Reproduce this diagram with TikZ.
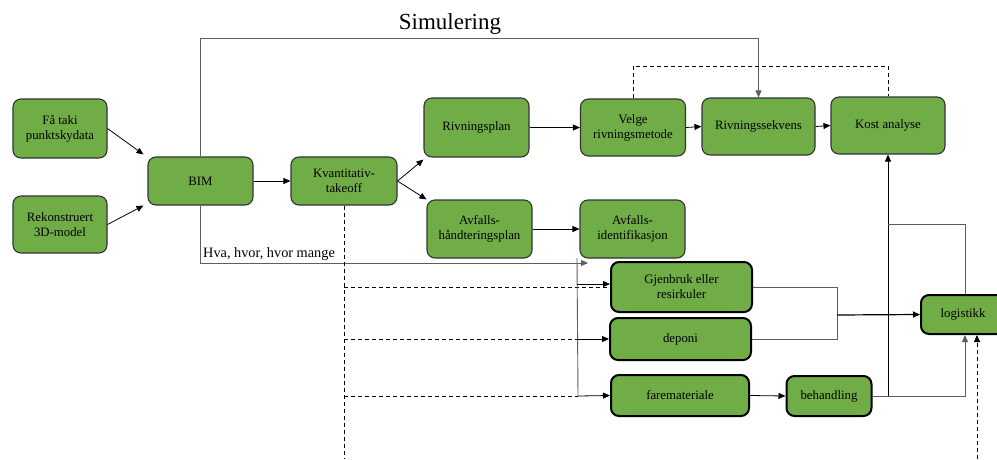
\documentclass[tikz,border=0pt]{standalone}
\usepackage{fontspec}
\setmainfont{Liberation Serif}
\usetikzlibrary{arrows.meta}
\definecolor{boxgreen}{HTML}{70AD47}
\definecolor{lgray}{HTML}{5E5E5E}
\tikzset{
  box/.style={draw=black!80, line width=1.1pt, fill=boxgreen, rounded corners=8pt, align=center,
    font=\fontsize{12.8}{15}\selectfont, inner sep=1pt},
  tbox/.style={box, draw=black, line width=2pt},
  conn/.style={line width=0.8pt, draw=black},
  arr/.style={conn, -{Triangle[length=7pt,width=6pt]}},
  gline/.style={line width=0.9pt, draw=lgray},
  dline/.style={conn, dash pattern=on 4pt off 3pt},
}
\begin{document}
\begin{tikzpicture}[x=1pt,y=-1pt]
\useasboundingbox (0,0) rectangle (997,459);
% nodes
\node[box, minimum width=94pt, minimum height=59pt] (fa) at (60,128.5) {Få taki\\punktskydata};
\node[box, minimum width=94pt, minimum height=57pt] (rek) at (60,224.5) {Rekonstruert\\3D-model};
\node[box, minimum width=105pt, minimum height=48pt] (bim) at (200.5,181) {BIM};
\node[box, minimum width=106pt, minimum height=48pt] (kv) at (344,181) {Kvantitativ-\\takeoff};
\node[box, minimum width=105pt, minimum height=59pt] (riv) at (476.5,127.5) {Rivningsplan};
\node[box, minimum width=105pt, minimum height=57pt] (velge) at (633,127.5) {Velge\\rivningsmetode};
\node[box, minimum width=113pt, minimum height=57pt] (sekv) at (758.5,126.5) {Rivningssekvens};
\node[box, minimum width=114pt, minimum height=57pt] (kost) at (888,125.5) {Kost analyse};
\node[box, minimum width=105pt, minimum height=58pt] (avh) at (479.5,229) {Avfalls-\\håndteringsplan};
\node[box, minimum width=105pt, minimum height=58pt] (avi) at (632.5,229) {Avfalls-\\identifikasjon};
\node[tbox, minimum width=141pt, minimum height=50pt] (gjen) at (681.5,287) {Gjenbruk eller\\resirkuler};
\node[tbox, minimum width=141pt, minimum height=42pt] (dep) at (680.5,339) {deponi};
\node[tbox, minimum width=138pt, minimum height=41pt] (fare) at (680,395.5) {faremateriale};
\node[tbox, minimum width=85pt, minimum height=40pt] (beh) at (829,396) {behandling};
\node[tbox, minimum width=84pt, minimum height=39pt] (log) at (963,314.5) {logistikk};
\node[font=\fontsize{23}{27}\selectfont, inner sep=0pt] (sim) at (450,24) {Simulering};
% helper coordinates
\coordinate (simL) at (200.5,38);
\coordinate (hvaE) at (588,263);
\coordinate (vT) at (577,258);
\coordinate (vB) at (578,396);
\coordinate (vG) at (577,284);
\coordinate (kvB) at (344,459);
\coordinate (jn) at (837,315);
\coordinate (kj) at (888,224);
\coordinate (logD) at (977,459);
% connectors
\draw[arr] (fa.east) -- ([xshift=-4pt,yshift=2pt]bim.north west);
\draw[arr] (rek.east) -- ([xshift=-4pt]bim.south west);
\draw[arr] (bim.east) -- (kv.west);
\draw[arr] (kv.east) -- ([yshift=-2pt]riv.south west);
\draw[arr] (kv.east) -- (avh.north west);
\draw[arr] (riv.east) -- (velge.west);
\draw[arr] (velge.east) -- (sekv.west);
\draw[arr] (sekv.east) -- (kost.west);
\draw[arr] (avh.east) -- (avi.west);
\draw[arr, draw=lgray] (bim.north) -- (simL) -| (sekv.north);
\draw[dline] (velge.north) -- ++(0,-32) -| (kost.north);
\draw[arr, draw=lgray] (bim.south) |- (hvaE);
\node[anchor=south west, inner sep=1pt, font=\fontsize{14.3}{17}\selectfont] (hva) at (202,262) {Hva, hvor, hvor mange};
\draw[dline] (kv.south) -- (kvB);
\draw[dline] (kv.south |- gjen.west) -- (gjen.west);
\draw[dline] (kv.south |- dep.west) -- (vT |- dep.west);
\draw[dline] (kv.south |- vB) -- (vB);
\draw[gline] (vT) -- (vB);
\draw[arr] (vB) -- (fare.west);
\draw[arr] (vG) -- (gjen.west |- vG);
\draw[arr] (vT |- dep.west) -- (dep.west);
\draw[arr] (fare.east) -- (beh.west);
\draw[gline] (gjen.east) -| (jn);
\draw[gline] (dep.east) -| (jn);
\draw[arr, line width=1.2pt] (jn) -- (log.west);
\draw[arr, draw=lgray] (beh.east) -| ([xshift=2pt]log.south);
\draw[arr] (kost.south |- beh.east) -- (kost.south);
\draw[gline] ([xshift=2pt]log.north) |- (kj);
\draw[dline, -{Triangle[length=7pt,width=6pt]}] (logD) -- (logD |- log.south);
\end{tikzpicture}
\end{document}
